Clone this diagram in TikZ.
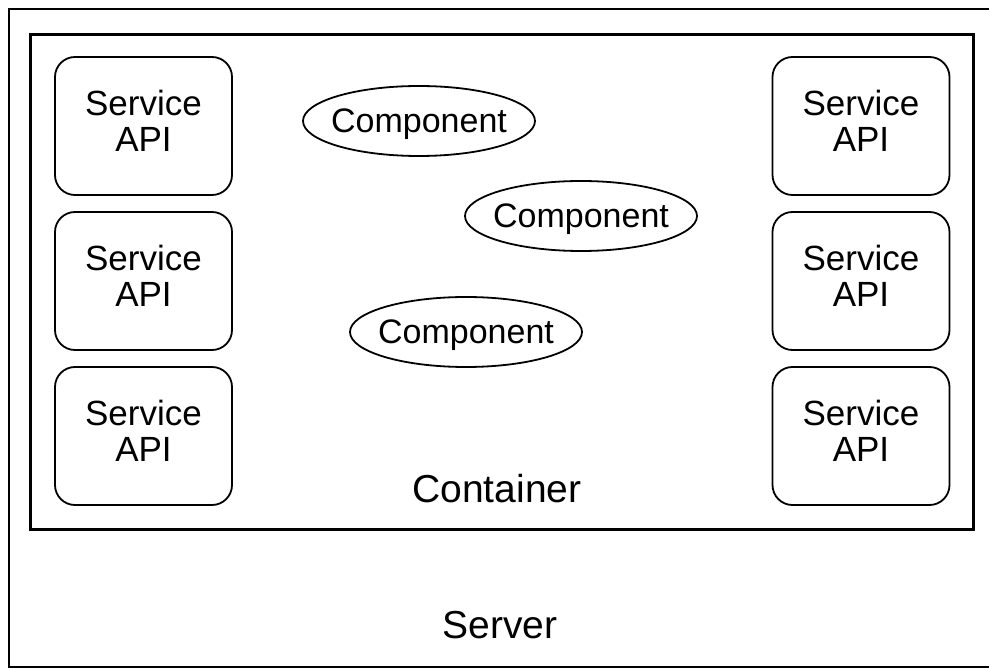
\documentclass[tikz,border=0pt]{standalone}
\usepackage{fontspec}
\setmainfont{Liberation Sans}
\usetikzlibrary{shapes.geometric}

\begin{document}
\begin{tikzpicture}[x=1pt, y=-1pt,
	api/.style={draw=black, line width=1.8pt, rounded corners=20pt, minimum width=177pt, minimum height=138pt, inner sep=0pt, align=center, text depth=10pt, font=\fontsize{35}{36}\selectfont},
	comp/.style={draw=black, ellipse, line width=1.8pt, minimum width=232pt, minimum height=70pt, inner xsep=-6pt, inner ysep=0pt, text depth=0pt, font=\fontsize{34}{36}\selectfont},
	caption/.style={anchor=base, font=\fontsize{39}{40}\selectfont}]
		\clip (0,0) rectangle (989,668);
		% server and container frames
		\draw [line width=2pt] (9,9) coordinate (srvnw) rectangle (1005,667) coordinate (srvse);
		\draw [line width=3pt] (30,35) coordinate (ctrnw) rectangle (973,529) coordinate (ctrse);
		% service APIs on both sides
		\foreach \row/\y in {1/126, 2/281, 3/436} {
			\node [api] (apil\row) at (143.5,\y) {Service\\API};
			\node [api] (apir\row) at (861,\y) {Service\\API};
		}
		\node [comp] (compa) at (419,121) {Component};
		\node [comp] (compb) at (581,216) {Component};
		\node [comp] (compc) at (466,332) {Component};
		\node [caption] (container) at (497,503) {Container};
		\node [caption] (server) at (500,638) {Server};
	\end{tikzpicture}
\end{document}
